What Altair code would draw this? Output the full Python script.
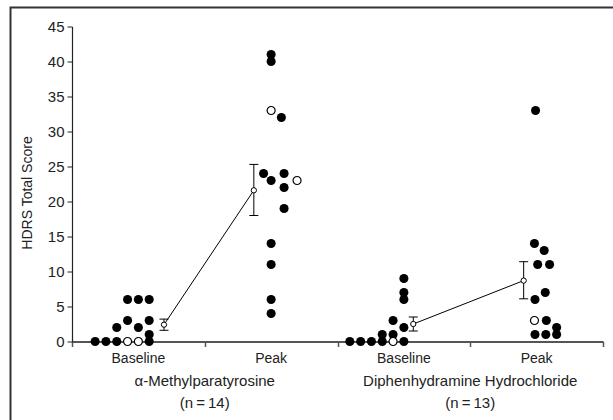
import altair as alt
import pandas as pd

# ---- data ----
categories = ["Baseline", "Peak", "Baseline", "Peak"]
group_names = ["\u03b1-Methylparatyrosine", "Diphenhydramine Hydrochloride"]
group_ns = ["(n\u2009=\u200914)", "(n\u2009=\u200913)"]

# individual subject scores (cat index 0..3), jitter slot offsets, open-circle flag
g1_base_scores = [0, 0, 0, 0, 0, 0, 1, 2, 2, 3, 3, 6, 6, 6]
g1_base_slots = [-4, -3, -2, -1, 0, 1, 1, -2, 0, -1, 1, -1, 0, 1]
g1_base_open = [0, 0, 0, 1, 1, 0, 0, 0, 0, 0, 0, 0, 0, 0]

g1_peak_scores = [41, 40, 33, 32, 24, 23, 24, 22, 23, 19, 14, 11, 6, 4]
g1_peak_slots = [0, 0, 0, 0.95, -0.7, 0, 1.2, 1.2, 2.4, 1.2, 0, 0, 0, 0]
g1_peak_open = [0, 0, 1, 0, 0, 0, 0, 0, 1, 0, 0, 0, 0, 0]

g2_base_scores = [0, 0, 0, 0, 0, 0, 1, 1, 2, 3, 6, 7, 9]
g2_base_slots = [-5, -4, -3, -2, -1, 0, -2, -1, 0, -1, 0, 0, 0]
g2_base_open = [0, 0, 0, 0, 1, 0, 0, 0, 0, 0, 0, 0, 0]

g2_peak_scores = [33, 14, 13, 11, 11, 7, 6, 3, 3, 2, 1, 1, 1]
g2_peak_slots = [-0.1, -0.2, 0.7, 0.1, 1.2, 0.8, -0.15, -0.2, 0.9, 1.85, -0.15, 0.85, 1.85]
g2_peak_open = [0, 0, 0, 0, 0, 0, 0, 1, 0, 0, 0, 0, 0]

# group means with error bars (cat index, mean, low, high, slot offset)
mean_cat = [0, 1, 2, 3]
mean_group = [0, 0, 1, 1]
mean_val = [2.4, 21.6, 2.5, 8.7]
mean_lo = [1.6, 18.0, 1.5, 6.1]
mean_hi = [3.2, 25.3, 3.5, 11.4]
mean_slot = [2.37, -1.6, 0.87, -1.2]

SLOT = 0.0814  # width of one jitter slot in x units

rows = []
for cat, (sc, sl, op) in enumerate([
    (g1_base_scores, g1_base_slots, g1_base_open),
    (g1_peak_scores, g1_peak_slots, g1_peak_open),
    (g2_base_scores, g2_base_slots, g2_base_open),
    (g2_peak_scores, g2_peak_slots, g2_peak_open),
]):
    for s, o, f in zip(sc, sl, op):
        rows.append({"x": cat + 0.5 + o * SLOT, "score": s, "open": bool(f)})
pts = pd.DataFrame(rows)
filled = pts[~pts["open"]]
opened = pts[pts["open"]]

means = pd.DataFrame({
    "x": [c + 0.5 + s * SLOT for c, s in zip(mean_cat, mean_slot)],
    "group": mean_group,
    "mean": mean_val,
    "lo": mean_lo,
    "hi": mean_hi,
})

cat_labels = pd.DataFrame({"x": [0.5, 1.5, 2.5, 3.5], "text": categories})
grp_labels = pd.DataFrame({"x": [1.0, 3.0], "name": group_names, "n": group_ns})

FONT = "Liberation Sans"
INK = "#222222"

xscale = alt.Scale(domain=[0, 4], nice=False, zero=False)
yscale = alt.Scale(domain=[0, 45], nice=False)

x_axis = alt.Axis(values=[0, 1, 2, 3, 4], labels=False, title=None, grid=False,
                  tickSize=5, tickColor="#555555", tickWidth=1.5,
                  domainColor="#555555", domainWidth=2)
y_axis = alt.Axis(values=list(range(0, 50, 5)), title="HDRS Total Score", grid=False,
                  tickSize=5, tickColor=INK, domainColor=INK, domainWidth=1.2,
                  labelFont=FONT, labelFontSize=15, labelColor=INK, labelPadding=3,
                  titleFont=FONT, titleFontSize=14, titleFontWeight="normal",
                  titleColor=INK, titleX=-45, titleY=166, titleBaseline="middle")


def X(field):
    return alt.X(field, type="quantitative", scale=xscale, axis=x_axis)


def Y(field):
    return alt.Y(field, type="quantitative", scale=yscale, axis=y_axis)


dots = alt.Chart(filled).mark_point(filled=True, shape="circle", size=82, color="black", opacity=1).encode(
    x=X("x"), y=Y("score"),
)
open_dots = alt.Chart(opened).mark_point(shape="circle", size=64, fill="white", fillOpacity=1,
                                          stroke="black", strokeWidth=1.2, opacity=1).encode(
    x=X("x"), y=Y("score"),
)

mean_line = alt.Chart(means).mark_line(color="black", strokeWidth=1).encode(
    x=X("x"), y=Y("mean"), detail="group:N",
)
err_rule = alt.Chart(means).mark_rule(color="black", strokeWidth=1).encode(
    x=X("x"), y=Y("lo"), y2="hi:Q",
)
cap_lo = alt.Chart(means).mark_tick(orient="horizontal", size=9, thickness=1, color="black", opacity=1).encode(
    x=X("x"), y=Y("lo"),
)
cap_hi = alt.Chart(means).mark_tick(orient="horizontal", size=9, thickness=1, color="black", opacity=1).encode(
    x=X("x"), y=Y("hi"),
)
mean_pts = alt.Chart(means).mark_point(shape="circle", size=28, fill="white", fillOpacity=1,
                                       stroke="black", strokeWidth=1, opacity=1).encode(
    x=X("x"), y=Y("mean"),
)

cat_text = alt.Chart(cat_labels).mark_text(font=FONT, fontSize=14, color=INK, baseline="middle").encode(
    x=X("x"), y=alt.value(332), text="text:N",
)
grp_text = alt.Chart(grp_labels).mark_text(font=FONT, fontSize=15, color=INK, baseline="middle").encode(
    x=X("x"), y=alt.value(354.5), text="name:N",
)
n_text = alt.Chart(grp_labels).mark_text(font=FONT, fontSize=15, color=INK, baseline="middle").encode(
    x=X("x"), y=alt.value(376.5), text="n:N",
)

frame = alt.Chart(alt.Data(values=[{}])).mark_rect(fillOpacity=0, stroke="#333333", strokeWidth=2).encode(
    x=alt.value(-61.5), x2=alt.value(560), y=alt.value(-19), y2=alt.value(420),
)

chart = alt.layer(
    dots, mean_line, err_rule, cap_lo, cap_hi, mean_pts, open_dots,
    cat_text, grp_text, n_text, frame,
).properties(
    width=531, height=315,
    autosize=alt.AutoSizeParams(type="none"),
    padding={"left": 72, "top": 26.5, "right": 10, "bottom": 78.5},
).configure(background="white").configure_view(stroke=None)

chart.save("out.html", embed_options={"renderer": "svg", "actions": False})
